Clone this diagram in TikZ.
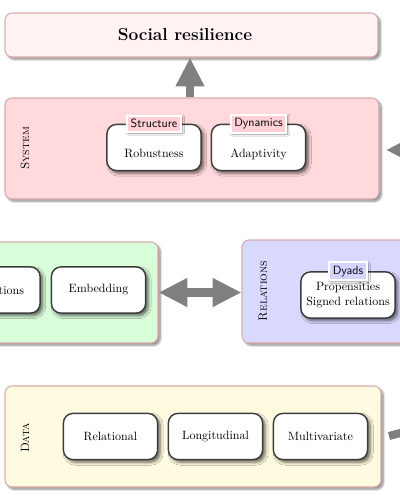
\documentclass[tikz,border=0pt]{standalone}
\usetikzlibrary{arrows.meta,shadows.blur}
\definecolor{boxedge}{RGB}{218,172,172}
\definecolor{resfill}{RGB}{255,242,242}
\definecolor{sysfill}{RGB}{255,217,219}
\definecolor{grnfill}{RGB}{217,253,217}
\definecolor{blufill}{RGB}{217,217,255}
\definecolor{yelfill}{RGB}{255,251,224}
\definecolor{tagred}{RGB}{255,208,213}
\definecolor{tagblue}{RGB}{212,212,255}
\definecolor{itemedge}{RGB}{60,60,60}
\definecolor{arrowgray}{RGB}{128,128,128}
\tikzset{
  panel/.style={draw=boxedge, line width=0.9pt, rounded corners=6pt,
    blur shadow={shadow blur steps=8, shadow xshift=2pt, shadow yshift=-2pt, shadow opacity=45},
    minimum height=84.2pt},
  item/.style={draw=itemedge, line width=1.2pt, fill=white, rounded corners=8pt,
    minimum width=78.5pt, minimum height=38.5pt, align=center,
    blur shadow={shadow blur steps=6, shadow xshift=2.2pt, shadow yshift=-2.2pt, shadow opacity=60, shadow blur radius=2.5pt}},
  lowtext/.style={text height=16.4pt, text depth=0pt},
  tagbox/.style={draw=white, line width=1.6pt, font=\sffamily, inner sep=3pt, text=black,
    blur shadow={shadow blur steps=4, shadow xshift=1.2pt, shadow yshift=-1.2pt, shadow opacity=45}},
  side/.style={rotate=90, font=\scshape},
  fat/.style={draw=arrowgray, line width=6.7pt, -{Triangle[length=24pt,width=22.5pt]}},
  fatboth/.style={draw=arrowgray, line width=6.7pt, {Triangle[length=24pt,width=22.5pt]}-{Triangle[length=24pt,width=22.5pt]}},
}
\begin{document}
\begin{tikzpicture}[x=0.8333pt, y=-0.8333pt]
\useasboundingbox (0,0) rectangle (400,500);
\clip (0,0) rectangle (400,500);
% top
\node[panel, fill=resfill, minimum width=310.8pt, minimum height=36.7pt] (resil) at (191.5,35) {};
\node[font=\Large\bfseries] (resiltext) at (185,35) {Social resilience};
% system
\node[panel, fill=sysfill, minimum width=311.7pt] (system) at (192,148.5) {};
\node[side] (syslab) at (25,148.5) {System};
\node[item, lowtext] (rob) at (154,147.5) {Robustness};
\node[item, lowtext] (ada) at (258.5,147.5) {Adaptivity};
\node[tagbox, fill=tagred] (structure) at (rob.north) {Structure};
\node[tagbox, fill=tagred] (dynamics) at (ada.north) {Dynamics};
% middle left (green)
\node[panel, fill=grnfill, minimum width=323.3pt] (green) at (-36,292.5) {};
\node[item] (inter) at (-7,290) {Interactions};
\node[item] (embed) at (98.5,290) {Embedding};
% relations
\node[panel, fill=blufill, minimum width=315pt, minimum height=85.8pt] (rel) at (431,291.5) {};
\node[side] (rellab) at (263,291) {Relations};
\node[item] (prop) at (348,295) {Propensities\\Signed relations};
\node[tagbox, fill=tagblue] (dyads) at (prop.north) {Dyads};
% data
\node[panel, fill=yelfill, minimum width=313.3pt] (data) at (193,436.5) {};
\node[side] (datalab) at (25,438) {Data};
\node[item] (relational) at (110.5,436.5) {Relational};
\node[item] (longi) at (215.5,436.5) {Longitudinal};
\node[item] (multi) at (320.5,436.5) {Multivariate};
% arrows
\draw[fat] (system.north -| 190,0) -- (resil.south -| 190,0);
\draw[fatboth] (green.east) -- (green.east -| rel.west);
\coordinate (sysfrom) at (470,150);
\coordinate (sysin) at (386,150);
\draw[fat] (sysfrom) -- (sysin);
\coordinate (dataout) at (389,436);
\coordinate (datato) at (490,409);
\draw[fat] (dataout) -- (datato);
\end{tikzpicture}
\end{document}
